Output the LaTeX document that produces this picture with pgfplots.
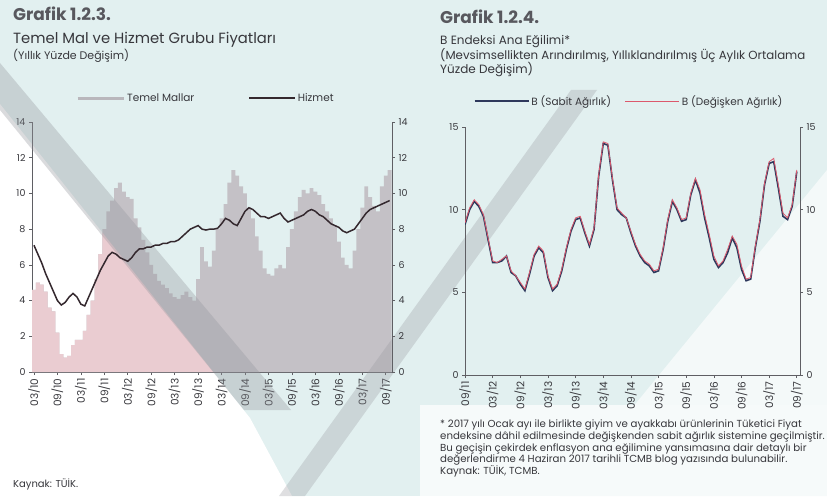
\documentclass[border=0pt]{standalone}
\usepackage{pgfplots}
\usepackage{pgfplotstable}
\pgfplotsset{compat=1.18}
\usepackage{fontspec}
\setmainfont{Poppins}

\definecolor{bgcyan}{RGB}{226,240,240}
\definecolor{bandgray}{RGB}{150,152,158}
\definecolor{bargray}{RGB}{196,193,198}
\definecolor{barpink}{RGB}{234,204,209}
\definecolor{legendgray}{RGB}{185,183,188}
\definecolor{hizmet}{RGB}{52,40,46}
\definecolor{sabit}{RGB}{46,56,92}
\definecolor{degisken}{RGB}{220,88,108}
\definecolor{titlegray}{RGB}{88,88,94}
\definecolor{textgray}{RGB}{55,55,60}
\definecolor{axisgray}{RGB}{95,95,100}

% Temel mallar (bars) and hizmet (line), annual % change; i = months since 01/2010
\pgfplotstableread{
i tm hz
2 4.6 7.1
3 5.0 6.6
4 4.9 6.1
5 4.5 5.5
6 3.6 5.0
7 3.4 4.5
8 2.2 4.0
9 1.0 3.75
10 0.8 3.9
11 0.9 4.2
12 1.5 4.4
13 1.8 4.2
14 1.8 3.8
15 2.3 3.7
16 3.2 4.2
17 4.0 4.7
18 5.2 5.2
19 6.6 5.7
20 8.0 6.1
21 9.0 6.5
22 9.6 6.7
23 10.3 6.6
24 10.6 6.4
25 10.1 6.3
26 9.8 6.2
27 9.7 6.4
28 8.6 6.7
29 8.1 6.9
30 7.4 6.9
31 6.7 7.0
32 6.0 7.0
33 5.5 7.1
34 5.1 7.1
35 4.9 7.2
36 4.7 7.2
37 4.4 7.3
38 4.2 7.3
39 4.1 7.4
40 4.3 7.6
41 4.5 7.8
42 4.2 8.0
43 4.0 8.1
44 5.2 8.2
45 7.0 8.0
46 6.2 7.95
47 5.9 8.0
48 6.8 8.0
49 8.0 8.05
50 8.6 8.3
51 9.4 8.6
52 10.6 8.5
53 11.3 8.3
54 11.0 8.2
55 10.4 8.6
56 10.0 9.0
57 9.2 9.2
58 8.6 9.1
59 7.6 8.9
60 6.8 8.7
61 5.8 8.7
62 5.5 8.6
63 5.4 8.7
64 5.8 8.8
65 6.0 8.9
66 5.8 8.6
67 7.0 8.4
68 8.0 8.5
69 9.0 8.6
70 9.8 8.7
71 10.2 8.8
72 10.0 9.0
73 10.3 9.1
74 10.1 9.0
75 9.9 8.8
76 9.4 8.7
77 9.0 8.5
78 8.6 8.3
79 8.2 8.2
80 7.3 8.1
81 6.4 7.9
82 6.0 7.8
83 5.8 7.9
84 6.8 8.0
85 8.0 8.3
86 9.2 8.6
87 10.4 8.9
88 9.8 9.1
89 9.3 9.2
90 9.0 9.3
91 10.4 9.4
92 11.0 9.5
93 11.3 9.6
}\tablesol

% B index underlying trend, fixed vs. variable weights
\pgfplotstableread{
i sabit degisken
20 9.1 9.2
21 10.0 10.1
22 10.5 10.6
23 10.2 10.3
24 9.6 9.7
25 8.2 8.3
26 6.8 6.9
27 6.8 6.8
28 6.9 7.0
29 7.2 7.2
30 6.2 6.3
31 6.0 6.0
32 5.5 5.6
33 5.1 5.2
34 6.1 6.2
35 7.2 7.3
36 7.7 7.8
37 7.4 7.5
38 5.9 6.0
39 5.1 5.2
40 5.4 5.5
41 6.3 6.4
42 7.6 7.7
43 8.7 8.8
44 9.4 9.5
45 9.5 9.6
46 8.6 8.7
47 7.8 7.9
48 8.8 8.9
49 12.0 12.1
50 14.0 14.1
51 13.9 14.0
52 11.8 11.9
53 10.0 10.1
54 9.7 9.8
55 9.5 9.5
56 8.6 8.7
57 7.8 7.9
58 7.2 7.3
59 6.8 6.9
60 6.6 6.7
61 6.2 6.3
62 6.3 6.4
63 7.6 7.7
64 9.3 9.4
65 10.5 10.6
66 10.0 10.1
67 9.3 9.4
68 9.4 9.5
69 10.9 11.0
70 11.8 11.9
71 11.0 11.2
72 9.5 9.7
73 8.3 8.5
74 7.0 7.2
75 6.5 6.6
76 6.8 6.9
77 7.4 7.6
78 8.3 8.4
79 7.7 7.9
80 6.4 6.6
81 5.7 5.8
82 5.8 5.9
83 7.7 7.8
84 9.3 9.4
85 11.5 11.6
86 12.8 12.9
87 12.9 13.1
88 11.3 11.5
89 9.6 9.8
90 9.4 9.5
91 10.2 10.3
92 12.3 12.4
}\tablesag

\pgfplotsset{
  panelL/.style={at={(32pt,124pt)}, anchor=south west, scale only axis,
    width=360pt, height=250pt, xmin=1.5, xmax=93.6, ymin=0, ymax=14},
  panelR/.style={at={(465pt,121pt)}, anchor=south west, scale only axis,
    width=335pt, height=248pt, xmin=20, xmax=92.7, ymin=0, ymax=15},
  base/.style={axis line style={axisgray, line width=0.8pt},
    tick style={axisgray, line width=0.6pt}, tick align=outside,
    major tick length=3pt,
    ticklabel style={font=\fontsize{9.5}{11}\selectfont, text=textgray},
    /pgf/number format/assume math mode=true},
  xlab/.style={x tick label style={rotate=90, anchor=east,
    font=\fontsize{10.5}{12}\selectfont, text=textgray}},
  legstyle/.style={legend style={draw=none, fill=none, legend columns=-1,
    font=\fontsize{10.5}{12}\selectfont, text=textgray},
    legend image code/.code={\draw[##1] (0pt,0pt) -- (#1,0pt);}},
}

\begin{document}
\begin{tikzpicture}[x=1pt, y=1pt]
% page background
\fill[bgcyan] (0,0) rectangle (827,496);
\fill[white] (0,392) -- (250,78) -- (292,0) -- (0,0) -- cycle;
\fill[white!60!bgcyan] (560,0) -- (827,326) -- (827,0) -- cycle;
\fill[white!70!bgcyan] (420,91) -- (827,91) -- (827,0) -- (420,0) -- cycle;

% ---- left panel: axes and bars ----
\begin{axis}[panelL, base, xlab,
  axis x line*=bottom, axis y line*=left,
  ytick={0,2,...,14}, xtick={2,8,...,92},
  xticklabels={03/10,09/10,03/11,09/11,03/12,09/12,03/13,09/13,03/14,09/14,03/15,09/15,03/16,09/16,03/17,09/17}]
\addplot[ybar, bar width=1, fill=bargray, draw=none] table[x=i, y=tm] {\tablesol};
\end{axis}

% bars on the pale lower-left part of the page take a pink tint
\begin{scope}
\clip (0,392) -- (250,78) -- (0,78) -- cycle;
\begin{axis}[panelL, hide axis]
\addplot[ybar, bar width=1, fill=barpink, draw=none] table[x=i, y=tm] {\tablesol};
\end{axis}
\end{scope}

% diagonal page bands
\fill[bandgray, opacity=0.35] (0,433) -- (291,86) -- (244,86) -- (0,386) -- cycle;
\fill[bandgray, opacity=0.30] (571,406) -- (597,406) -- (305,0) -- (279,0) -- cycle;

% ---- left panel: right-hand axis and services line ----
\begin{axis}[panelL, base, axis y line*=right, axis x line=none,
  ytick={0,2,...,14}, legstyle={46pt},
  legend style={at={(axis description cs:0.483,1.096)}, anchor=center,
    /tikz/every even column/.append style={column sep=52pt}}]
\addlegendimage{line width=3pt, legendgray}
\addlegendentry{Temel Mallar}
\addplot[hizmet, line width=1.5pt] table[x=i, y=hz] {\tablesol};
\addlegendentry{Hizmet}
\end{axis}

% ---- right panel ----
\begin{axis}[panelR, base, xlab,
  axis x line*=bottom, axis y line*=left,
  ytick={0,5,10,15}, xtick={20,26,...,92},
  xticklabels={09/11,03/12,09/12,03/13,09/13,03/14,09/14,03/15,09/15,03/16,09/16,03/17,09/17},
  legstyle={54pt},
  legend style={at={(axis description cs:0.49,1.105)}, anchor=center,
    /tikz/every even column/.append style={column sep=12pt}}]
\addplot[sabit, line width=1.6pt] table[x=i, y=sabit] {\tablesag};
\addlegendentry{B (Sabit Ağırlık)}
\addplot[degisken, line width=0.8pt] table[x=i, y=degisken] {\tablesag};
\addlegendentry{B (Değişken Ağırlık)}
\end{axis}
\begin{axis}[panelR, base, axis y line*=right, axis x line=none,
  ytick={0,5,10,15}]
\addplot[draw=none] coordinates {(20,0)};
\end{axis}

% ---- titles and notes ----
\begin{scope}[every node/.style={anchor=base west, inner sep=0pt, text=textgray}]
\node[text=titlegray] at (13,475) {\fontsize{17}{19}\selectfont\bfseries Grafik 1.2.3.};
\node at (13,452) {\fontsize{14.8}{16}\selectfont Temel Mal ve Hizmet Grubu Fiyatları};
\node at (13,436) {\fontsize{11}{13}\selectfont (Yıllık Yüzde Değişim)};
\node at (13,9) {\fontsize{10}{12}\selectfont Kaynak: TÜİK.};

\node[text=titlegray] at (440,472) {\fontsize{17}{19}\selectfont\bfseries Grafik 1.2.4.};
\node at (440,451) {\fontsize{12}{13}\selectfont B Endeksi Ana Eğilimi*};
\node at (440,436) {\fontsize{11.8}{13}\selectfont (Mevsimsellikten Arındırılmış, Yıllıklandırılmış Üç Aylık Ortalama};
\node at (440,422) {\fontsize{12}{13}\selectfont Yüzde Değişim)};

\begin{scope}[every node/.append style={font=\fontsize{10.2}{12}\selectfont}]
\node at (440,69) {* 2017 yılı Ocak ayı ile birlikte giyim ve ayakkabı ürünlerinin Tüketici Fiyat};
\node at (440,57) {endeksine dâhil edilmesinde değişkenden sabit ağırlık sistemine geçilmiştir.};
\node at (440,45) {Bu geçişin çekirdek enflasyon ana eğilimine yansımasına dair detaylı bir};
\node at (440,34) {değerlendirme 4 Haziran 2017 tarihli TCMB blog yazısında bulunabilir.};
\node at (440,22) {Kaynak: TÜİK, TCMB.};
\end{scope}
\end{scope}
\end{tikzpicture}
\end{document}
